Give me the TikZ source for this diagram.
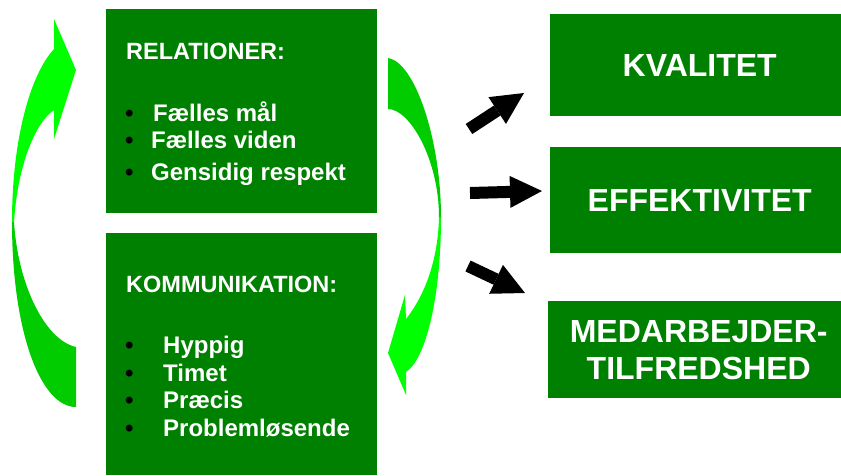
\documentclass[tikz,border=0pt]{standalone}
\usepackage{fontspec}
\setmainfont{Liberation Sans}
\usepackage{xcolor}
\usepackage{tikz}
\usetikzlibrary{shapes,arrows.meta,positioning}
\definecolor{boxgreen}{HTML}{008000}
\definecolor{arrowlight}{HTML}{00FF00}
\definecolor{arrowdark}{HTML}{00CC00}
\newcommand{\bul}[1]{\makebox[#1][l]{\textcolor{black}{•}}}
\newcommand{\nudge}{\hspace*{8pt}}

\begin{document}
\begin{tikzpicture}[x=1pt, y=-1pt,
  box/.style={rectangle, fill=boxgreen, anchor=north west, inner sep=0pt},
  big/.style={text=white, align=center, font=\fontsize{32}{37}\selectfont\bfseries},
  head/.style={text=white, anchor=base west, inner sep=0pt, font=\fontsize{23.5}{28}\selectfont\bfseries},
  item/.style={head, font=\fontsize{24}{28}\selectfont\bfseries},
  fat/.style={-{Triangle[length=32pt, width=32pt, line width=0pt]}, line width=12pt}]
  \useasboundingbox (0,0) rectangle (841,475);

  \node[box, minimum width=271, minimum height=204] (rel) at (106,9) {};
  \node[box, minimum width=271, minimum height=242] (kom) at (106,233) {};
  \node[box, big, minimum width=291, minimum height=102] (kval) at (550,14) {\nudge KVALITET};
  \node[box, big, minimum width=291, minimum height=106] (eff) at (550,147) {\nudge EFFEKTIVITET};
  \node[box, big, minimum width=293, minimum height=97] (med) at (548,301) {\nudge MEDARBEJDER-\\\nudge TILFREDSHED};

  \node[head] (relhead) at (126,59) {RELATIONER:};
  \node[item] (rel1) at (125,121) {\bul{28pt}Fælles mål};
  \node[item] (rel2) at (125,148) {\bul{26pt}Fælles viden};
  \node[item] (rel3) at (125,180) {\bul{26pt}Gensidig respekt};

  \node[head] (komhead) at (126,292) {KOMMUNIKATION:};
  \node[item] (kom1) at (125,353) {\bul{38pt}Hyppig};
  \node[item] (kom2) at (125,381) {\bul{38pt}Timet};
  \node[item] (kom3) at (125,408) {\bul{38pt}Præcis};
  \node[item] (kom4) at (125,436) {\bul{38pt}Problemløsende};

  % left loop arrow
  \fill[arrowdark] (12,222) .. controls (12,330) and (40,407) .. (76,407) -- (76,347)
    .. controls (45,340) and (18,285) .. (14,222) -- cycle;
  \fill[arrowlight] (12,222) .. controls (12,140) and (30,75) .. (54,49) -- (54,19) -- (76,70)
    -- (54,139) -- (54,110) .. controls (38,120) and (18,160) .. (14,222) -- cycle;

  % right loop arrow
  \fill[arrowdark] (388,58) .. controls (415,62) and (441,140) .. (441,217) -- (439,217)
    .. controls (439,160) and (410,109) .. (388,109) -- cycle;
  \fill[arrowlight] (441,217) .. controls (441,300) and (425,360) .. (406,372) -- (406,395)
    -- (388,353) -- (405,295) -- (406,319) .. controls (425,295) and (438,260) .. (439,217) -- cycle;

  \coordinate (up0) at (469,129);
  \coordinate (up1) at (524,93);
  \coordinate (mid0) at (470,193);
  \coordinate (mid1) at (542,191);
  \coordinate (dn0) at (468,266);
  \coordinate (dn1) at (525,293);
  \draw[fat] (up0) -- (up1);
  \draw[fat] (mid0) -- (mid1);
  \draw[fat] (dn0) -- (dn1);
\end{tikzpicture}
\end{document}
